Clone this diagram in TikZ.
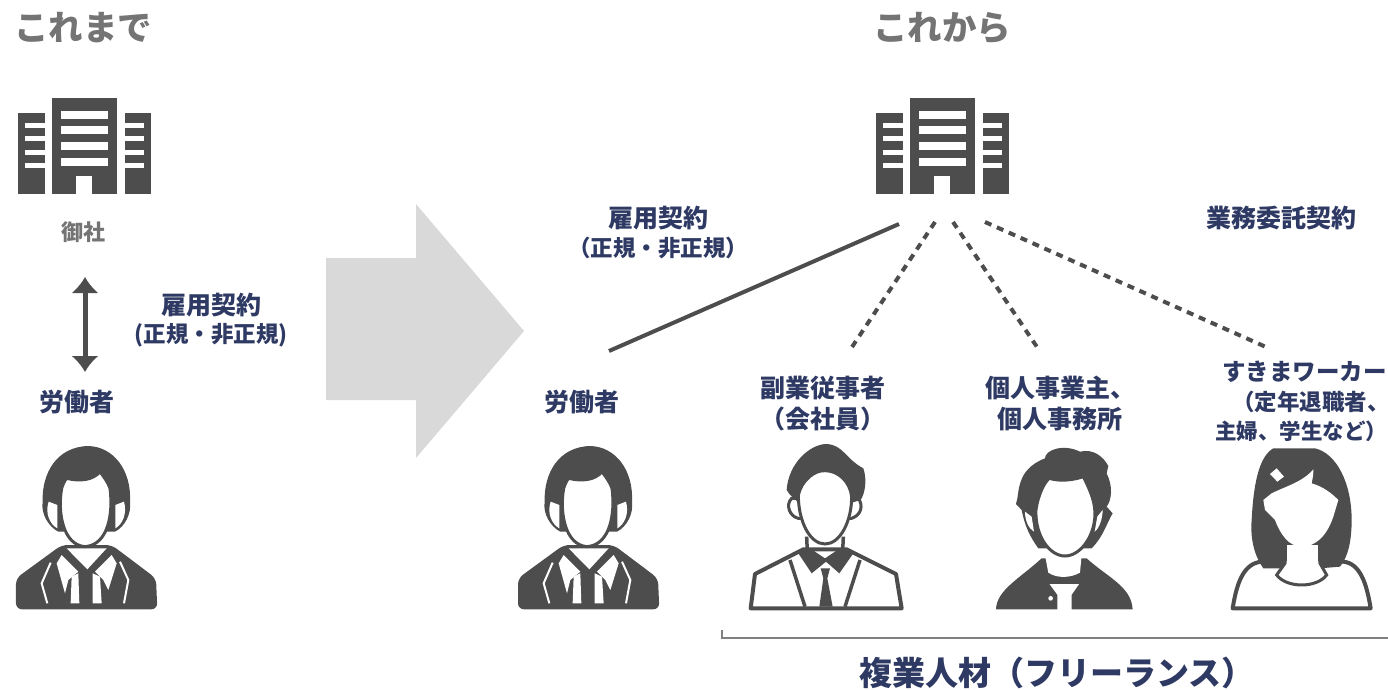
\documentclass[tikz,border=0pt]{standalone}
\usepackage{fontspec}
\setmainfont{Noto Sans CJK JP}
\usetikzlibrary{arrows.meta}
\definecolor{icongray}{HTML}{4D4D4D}
\definecolor{titlegray}{HTML}{747474}
\definecolor{bigarrowgray}{HTML}{D9D9D9}
\definecolor{labelnavy}{HTML}{2E3A63}
\tikzset{
    title/.style={font=\fontsize{34.5}{36}\selectfont\bfseries,text=titlegray,inner sep=0pt},
    label/.style={font=\fontsize{25}{28}\selectfont\bfseries,text=labelnavy,inner sep=0pt},
    sublabel/.style={font=\fontsize{22.5}{24}\selectfont\bfseries,text=labelnavy,inner sep=0pt},
    contract/.style={line width=4pt,draw=icongray},
    freelance/.style={contract,dash pattern=on 7pt off 6pt},
    outline/.style={fill=white,draw=icongray,line width=4pt,line join=round},
    % Building, origin at the upper left of the left wing:
    pics/building/.style={code={
        \fill [icongray] (0,15) rectangle (27,96);
        \fill [icongray] (34,0) rectangle (99,96);
        \fill [icongray] (107,15) rectangle (133,96);
        \foreach \y in {25,38,52,65}{%
            \fill [white] (7,\y) rectangle (27,\y+5);
            \fill [white] (107,\y) rectangle (126,\y+5);
        }
        \foreach \y in {13,28,44,60}{%
            \fill [white] (43,\y) rectangle (90,\y+8);
        }
        \fill [white] (58,78) rectangle (74,96);
    }},
    % The people are traced in units of 1/3 pixel
    pics/suitman/.style={code={
        \begin{scope}[scale=0.3333]
        \fill [icongray,rounded corners=6pt] (48,445) -- (185,345) -- (335,345) -- (468,445) -- (472,538) -- (48,538) -- cycle;
        % Collar, shirt and lapels:
        \fill [white] (200,355) -- (320,355) -- (262,418) -- cycle;
        \fill [white] (185,375) -- (235,425) -- (205,450) -- (195,490) -- (170,400) -- cycle;
        \fill [white] (335,375) -- (285,425) -- (310,450) -- (325,480) -- (350,400) -- cycle;
        \fill [white] (215,440) -- (235,430) -- (238,520) -- (212,520) -- cycle;
        \fill [white] (278,430) -- (300,440) -- (305,520) -- (278,520) -- cycle;
        \draw [white,line width=2pt] (152,398) -- (125,460) -- (142,520);
        \draw [white,line width=2pt] (360,395) -- (385,450) -- (372,520);
        % Hair and ears:
        \fill [icongray] (128,215) .. controls (125,130) and (170,50) .. (265,48)
            .. controls (340,50) and (395,120) .. (390,215)
            .. controls (395,250) and (375,290) .. (345,305) -- (175,305)
            .. controls (145,290) and (122,250) .. (128,215) -- cycle;
        \fill [white] (146,215) .. controls (134,250) and (150,283) .. (172,295) -- (172,225) -- cycle;
        \fill [white] (372,215) .. controls (382,250) and (368,283) .. (346,295) -- (346,225) -- cycle;
        % Face:
        \draw [fill=white,draw=icongray,line width=3pt] (185,175) .. controls (190,160) and (195,150) .. (200,145)
            .. controls (240,155) and (280,150) .. (300,125)
            .. controls (315,145) and (325,160) .. (330,175)
            .. controls (340,250) and (325,345) .. (255,350)
            .. controls (190,345) and (172,250) .. (185,175) -- cycle;
        \end{scope}
    }},
    pics/tieman/.style={code={
        \begin{scope}[scale=0.3333]
        % Jacket:
        \draw [outline] (62,535) -- (75,432) -- (220,358) -- (350,358) -- (498,432) -- (515,535) -- cycle;
        \draw [icongray,line width=3.5pt] (180,390) -- (225,530);
        \draw [icongray,line width=3.5pt] (390,390) -- (345,530);
        % Collar and tie:
        \fill [icongray] (205,370) -- (235,352) -- (285,385) -- (335,352) -- (370,370) -- (328,430) -- (288,395) -- (245,430) -- cycle;
        \fill [icongray] (272,415) -- (300,415) -- (292,445) -- (308,530) -- (268,530) -- (280,445) -- cycle;
        % Neck:
        \draw [icongray,line width=3.5pt] (230,320) -- (232,365);
        \draw [icongray,line width=3.5pt] (340,320) -- (338,365);
        % Hair and ears:
        \draw [fill=white,draw=icongray,line width=3pt] (185,205) .. controls (165,225) and (180,260) .. (205,265) -- (365,265) .. controls (395,255) and (400,225) .. (385,205) -- cycle;
        \fill [icongray] (170,180) .. controls (175,100) and (240,42) .. (290,42)
            .. controls (340,45) and (345,85) .. (400,115)
            .. controls (412,150) and (405,190) .. (392,210)
            -- (365,218) -- (205,218) -- (178,192) -- cycle;
        % Face:
        \draw [fill=white,draw=icongray,line width=3pt] (205,195) .. controls (215,150) and (255,120) .. (285,122)
            .. controls (325,122) and (360,155) .. (365,200)
            .. controls (365,275) and (330,342) .. (285,342)
            .. controls (240,342) and (205,275) .. (205,195) -- cycle;
        \end{scope}
    }},
    pics/curlyman/.style={code={
        \begin{scope}[scale=0.3333]
        % Jacket:
        \fill [icongray] (798,538) .. controls (800,480) and (870,445) .. (935,385)
            -- (1070,385) .. controls (1130,440) and (1205,470) .. (1208,538)
            -- (1025,538) -- (1025,495) -- (1048,462) -- (958,462) -- (982,495) -- (982,538) -- cycle;
        % Neck:
        \fill [white] (945,375) -- (1055,375) -- (1050,428) .. controls (1020,445) and (980,445) .. (955,428) -- cycle;
        \fill [white] (962,505) circle (7);
        % Hair:
        \fill [icongray] (858,222) .. controls (870,190) and (855,120) .. (945,85)
            .. controls (945,60) and (1000,40) .. (1050,65)
            .. controls (1090,55) and (1120,80) .. (1135,108)
            -- (1130,130) .. controls (1150,170) and (1145,210) .. (1130,230)
            -- (1148,250) .. controls (1130,280) and (1120,320) .. (1085,355)
            -- (925,355) .. controls (900,320) and (885,290) .. (875,240) -- cycle;
        \fill [white] (885,245) .. controls (885,270) and (895,295) .. (912,305) -- (905,260) -- cycle;
        \fill [white] (1118,240) .. controls (1118,265) and (1108,295) .. (1094,305) -- (1102,260) -- cycle;
        % Face:
        \draw [fill=white,draw=icongray,line width=3pt] (918,240) .. controls (925,190) and (945,155) .. (958,145)
            .. controls (990,155) and (1030,150) .. (1060,140)
            .. controls (1075,170) and (1095,210) .. (1095,250)
            .. controls (1095,320) and (1050,378) .. (1005,378)
            .. controls (960,378) and (915,320) .. (918,240) -- cycle;
        \end{scope}
    }},
    pics/woman/.style={code={
        \begin{scope}[scale=0.3333]
        % Blouse:
        \draw [outline] (308,775) .. controls (320,700) and (340,640) .. (395,635) -- (640,635) .. controls (690,640) and (710,700) .. (722,775) -- cycle;
        % Hair:
        \fill [icongray] (430,295) -- (555,295) .. controls (620,310) and (665,400) .. (665,510)
            .. controls (665,570) and (655,620) .. (630,650)
            -- (570,655) -- (400,655) .. controls (375,620) and (360,570) .. (365,510)
            .. controls (370,410) and (385,320) .. (430,295) -- cycle;
        % Neck:
        \draw [fill=white,draw=icongray,line width=3pt] (440,675) .. controls (470,715) and (560,715) .. (590,675) -- (570,640) -- (565,590) -- (470,590) -- (465,640) -- cycle;
        \fill [white] (470,585) rectangle (565,625);
        % Face:
        \fill [white] (425,430) .. controls (465,410) and (520,395) .. (550,358)
            .. controls (550,385) and (545,395) .. (545,400)
            .. controls (580,410) and (605,430) .. (625,450)
            -- (610,500) .. controls (590,560) and (555,590) .. (515,590)
            .. controls (475,590) and (450,550) .. (435,510)
            -- (405,480) -- (400,450) -- cycle;
        % Barrette:
        \fill [white] (420,372) -- (440,355) -- (462,380) -- (442,395) -- cycle;
        \end{scope}
    }}
}
\begin{document}
\begin{tikzpicture}[x=1pt,y=-1pt]
    \useasboundingbox (0,0) rectangle (1388,689);
    % Before:
    \node [title] (before) at (83,28) {これまで};
    \pic at (18,98) {building};
    \node [font=\fontsize{22}{24}\selectfont\bfseries,text=titlegray,inner sep=0pt] (company) at (83,232) {御社};
    \coordinate (arrowtop) at (85,277);
    \coordinate (arrowbottom) at (85,372);
    \draw [{Latex[length=16pt,width=28pt]}-{Latex[length=16pt,width=28pt]},line width=5pt,icongray] (arrowtop) -- (arrowbottom);
    \node [label] (contractleft) at (211,305) {雇用契約};
    \node [sublabel] (kindleft) at (211,335) {(正規・非正規)};
    \node [label] (workerleft) at (77,402) {労働者};
    \pic at (0,430) {suitman};

    % Big arrow in the middle:
    \fill [bigarrowgray] (326,258) -- (416,258) -- (416,204) -- (524,331) -- (416,458) -- (416,400) -- (326,400) -- cycle;

    % After:
    \node [title] (after) at (942,28) {これから};
    \pic at (876,98) {building};
    \node [label] (contractright) at (658,218) {雇用契約};
    \node [sublabel] (kindright) at (658,248) {（正規・非正規）};
    \node [label] (outsourcing) at (1281,218) {業務委託契約};

    % Contract lines:
    \coordinate (solidtop) at (899,224);
    \coordinate (solidend) at (609,351);
    \coordinate (dashatop) at (935,222);
    \coordinate (dashaend) at (852,347);
    \coordinate (dashbtop) at (953,222);
    \coordinate (dashbend) at (1037,347);
    \coordinate (dashctop) at (985,222);
    \coordinate (dashcend) at (1266,347);
    \draw [contract] (solidtop) -- (solidend);
    \draw [freelance] (dashatop) -- (dashaend);
    \draw [freelance] (dashbtop) -- (dashbend);
    \draw [freelance] (dashctop) -- (dashcend);

    % Workers:
    \node [label] (workerright) at (582,402) {労働者};
    \pic at (502,430) {suitman};
    \node [label] (sidejob) at (823,388) {副業従事者};
    \node [label] (employee) at (823,419) {（会社員）};
    \pic at (730,430) {tieman};
    \node [label,anchor=west] (soleowner) at (985,388) {個人事業主、};
    \node [label,anchor=west] (soleoffice) at (997,419) {個人事務所};
    \pic at (730,430) {curlyman};
    \node [label,anchor=west,font=\fontsize{23.5}{28}\selectfont\bfseries] (gapworker) at (1222,372) {すきまワーカー};
    \node [sublabel,anchor=west] (retired) at (1232,402) {（定年退職者、};
    \node [sublabel,anchor=west,font=\fontsize{21.5}{24}\selectfont\bfseries] (homemaker) at (1215,431) {主婦、学生など）};
    \pic at (1130,350) {woman};

    % Bracket and its label:
    \coordinate (brackettop) at (722,630);
    \coordinate (bracketcorner) at (722,638);
    \coordinate (bracketend) at (1388,638);
    \draw [gray,line width=1.2pt] (brackettop) -- (bracketcorner) -- (bracketend);
    \node [font=\fontsize{33}{36}\selectfont\bfseries,text=labelnavy,inner sep=0pt] (freelancers) at (1057,673) {複業人材（フリーランス）};
\end{tikzpicture}
\end{document}
